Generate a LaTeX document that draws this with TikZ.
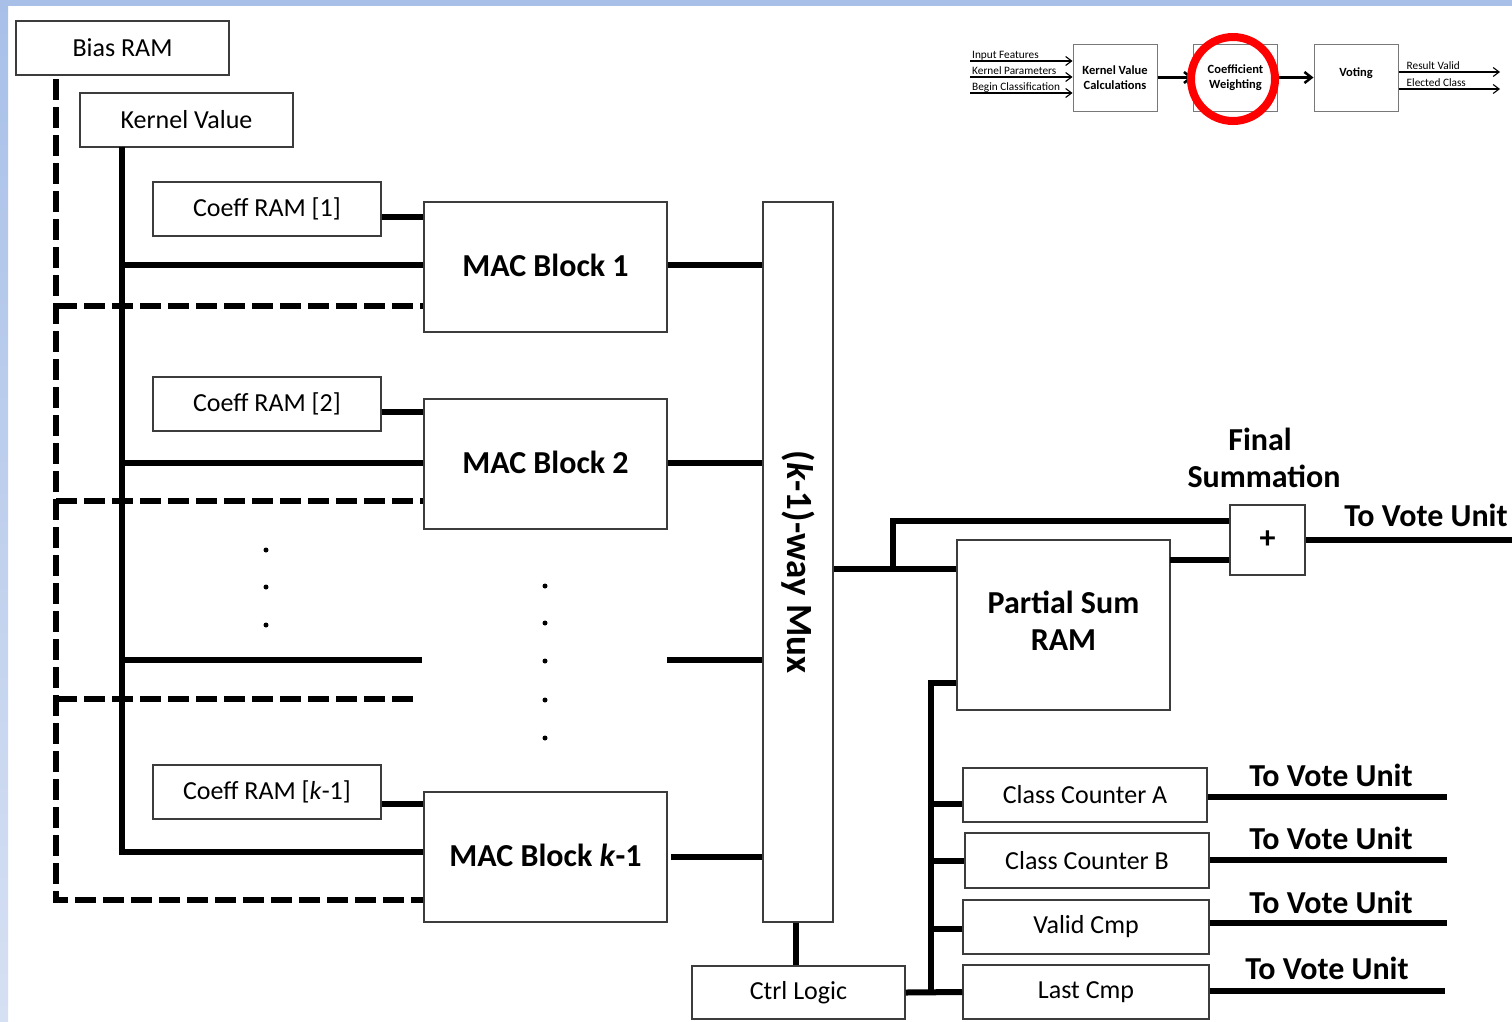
\documentclass[tikz,border=0pt]{standalone}
\usepackage{fontspec}
\setmainfont{Carlito}
\usetikzlibrary{arrows.meta}
\definecolor{boxgray}{RGB}{60,60,60}
\definecolor{minigray}{RGB}{120,120,120}
\definecolor{topblue}{RGB}{168,192,232}
\definecolor{lowblue}{RGB}{214,224,243}
\begin{document}
\begin{tikzpicture}[x=1pt,y=-1pt,
  blk/.style={draw=boxgray, line width=1.5pt, fill=white, inner sep=0pt, align=center},
  mini/.style={draw=minigray, line width=1pt, fill=white, inner sep=0pt, align=center,
    minimum width=84pt, minimum height=67pt, font=\bfseries\fontsize{12.5}{14.5}\selectfont},
  bus/.style={line width=6pt},
  biasline/.style={line width=5.5pt, dash pattern=on 21pt off 7pt},
  lbl/.style={font=\fontsize{26}{31}\selectfont},
  big/.style={font=\bfseries\fontsize{32}{37}\selectfont},
  minilbl/.style={font=\fontsize{11.3}{13}\selectfont, inner sep=0pt, anchor=base west},
  thinarr/.style={line width=1.1pt, -{Straight Barb[length=6pt,width=9pt]}},
  thickarr/.style={line width=2.5pt, -{Straight Barb[length=7pt,width=11pt]}},
  dotmark/.style={fill=black, circle, inner sep=0pt, minimum size=5pt}
]
\useasboundingbox (0,0) rectangle (1512,1021);
\fill[white] (0,0) rectangle (1512,1021);
\shade[top color=topblue, bottom color=lowblue] (0,0) rectangle (8,1021);
\fill[topblue] (0,0) rectangle (1512,6);

% ---- left column boxes
\node[blk, lbl, minimum width=213pt, minimum height=54pt] (bias) at (122.5,48) {Bias RAM};
\node[blk, lbl, minimum width=213pt, minimum height=54pt] (kv) at (186.5,120) {Kernel Value};
\node[blk, lbl, minimum width=228pt, minimum height=54pt] (c1) at (267,209) {Coeff RAM [1]};
\node[blk, lbl, minimum width=228pt, minimum height=54pt] (c2) at (267,404) {Coeff RAM [2]};
\node[blk, lbl, minimum width=228pt, minimum height=54pt] (ck) at (267,792) {Coeff RAM [\textit{k}-1]};
\node[blk, big, minimum width=243pt, minimum height=130pt] (m1) at (545.5,267) {\raisebox{4pt}{MAC Block 1}};
\node[blk, big, minimum width=243pt, minimum height=130pt] (m2) at (545.5,464) {\raisebox{4pt}{MAC Block 2}};
\node[blk, big, minimum width=243pt, minimum height=130pt] (mk) at (545.5,857) {\raisebox{4pt}{MAC Block \textit{k}-1}};
\node[blk, minimum width=70pt, minimum height=720pt] (mux) at (798,562) {};
\node[rotate=-90, font=\bfseries\fontsize{37}{42}\selectfont] (muxt) at (mux.center) {(\textit{k}-1)-way Mux};
\node[blk, lbl, minimum width=213pt, minimum height=53pt] (ctrl) at (798.5,992.5) {Ctrl Logic};

% ---- right side
\node[blk, big, minimum width=213pt, minimum height=170pt] (psr) at (1063.5,625) {\raisebox{5pt}{\begin{tabular}{@{}c@{}}Partial Sum\\RAM\end{tabular}}};
\node[blk, big, minimum width=75pt, minimum height=70pt] (plus) at (1267.5,540) {+};
\node[blk, lbl, minimum width=244pt, minimum height=54pt] (cca) at (1085,795) {Class Counter A};
\node[blk, lbl, minimum width=244pt, minimum height=55pt] (ccb) at (1087,860.5) {Class Counter B};
\node[blk, lbl, minimum width=246pt, minimum height=54pt] (vc) at (1086,927) {Valid Cmp};
\node[blk, lbl, minimum width=246pt, minimum height=54pt] (lc) at (1086,992) {Last Cmp};

\node[big, anchor=base] (fin) at (1260,450) {Final};
\node[big, anchor=base] (summ) at (1264,487) {Summation};
\node[big, anchor=base] (tv0) at (1426,526) {To Vote Unit};
\node[big, anchor=base] (tv1) at (1331,786) {To Vote Unit};
\node[big, anchor=base] (tv2) at (1331,849) {To Vote Unit};
\node[big, anchor=base] (tv3) at (1331,913) {To Vote Unit};
\node[big, anchor=base] (tv4) at (1327,979) {To Vote Unit};

% ---- coordinates
\coordinate (kvbus) at (122,147);
\coordinate (kvend) at (122,855);
\coordinate (bb) at (56,79);
\coordinate (bcorner) at (56,900);
\coordinate (d1) at (56,306);
\coordinate (d2) at (56,501);
\coordinate (d3) at (56,699);
\coordinate (d3e) at (418,699);
\coordinate (s3) at (122,660);
\coordinate (s3e) at (422,660);
\coordinate (o3) at (667,660);
\coordinate (j1) at (893,569);
\coordinate (j2) at (893,521);
\coordinate (j3) at (1170,560);
\coordinate (outF) at (1512,540);
\coordinate (cb1) at (931,683);
\coordinate (oend) at (1447,0);

% ---- bias (dashed)
\draw[biasline] (bb) -- (bcorner) -- (bcorner -| mk.west);
\draw[biasline] (d1) -- (d1 -| m1.west);
\draw[biasline] (d2) -- (d2 -| m2.west);
\draw[biasline] (d3) -- (d3e);

% ---- kernel value bus
\draw[bus] (kvbus) -- (kvend);
\draw[bus] (kvbus |- 0,265) -- (m1.west |- 0,265);
\draw[bus] (122,463) -- (m2.west |- 0,463);
\draw[bus] (s3) -- (s3e);
\draw[bus] (122,852) -- (mk.west |- 0,852);

% ---- coeff to MAC
\draw[bus] ([yshift=-8pt]c1.east) -- ([yshift=-8pt]c1.east -| m1.west);
\draw[bus] ([yshift=-8pt]c2.east) -- ([yshift=-8pt]c2.east -| m2.west);
\draw[bus] ([yshift=-12pt]ck.east) -- ([yshift=-12pt]ck.east -| mk.west);

% ---- MAC to mux
\draw[bus] (m1.east |- 0,265) -- (mux.west |- 0,265);
\draw[bus] (m2.east |- 0,463) -- (mux.west |- 0,463);
\draw[bus] (o3) -- (o3 -| mux.west);
\draw[bus] ([xshift=3pt]mk.east) -- (mk.east -| mux.west);

% ---- dots
\foreach \yy in {550,587,625} \node[dotmark] at (266,\yy) {};
\foreach \yy in {586,623,661,700,738} \node[dotmark] at (545,\yy) {};

% ---- mux out
\draw[bus] (mux.east |- j1) -- (psr.west |- j1);
\draw[bus] (j1) -- (j2) -- (j2 -| plus.west);
\draw[bus] (j3) -- (j3 -| plus.west);
\draw[bus] (plus.east) -- (outF);
\draw[bus] (mux.south -| 796,0) -- (ctrl.north -| 796,0);

% ---- control bus
\draw[bus] (psr.west |- cb1) -- (cb1) -- (cb1 |- ctrl.east);
\draw[bus] (ctrl.east) -- (lc.west);
\draw[bus] (cb1 |- 0,804) -- (cca.west |- 0,804);
\draw[bus] (cb1 |- ccb.west) -- (ccb.west);
\draw[bus] (cb1 |- 0,929) -- (vc.west |- 0,929);

% ---- outputs
\draw[bus] (cca.east |- 0,797) -- (oend |- 0,797);
\draw[bus] (ccb.east |- 0,860) -- (oend |- 0,860);
\draw[bus] (vc.east |- 0,923) -- (oend |- 0,923);
\draw[bus] (lc.east |- 0,991) -- (1445,991);

% ---- mini diagram
\node[mini] (kvc) at (1115,77.5) {Kernel Value\\Calculations};
\node[mini] (cw) at (1235.5,77.5) {Coefficient\\Weighting};
\node[mini] (vot) at (1356,77.5) {\raisebox{10pt}{Voting}};
\coordinate (i1) at (970,61);
\coordinate (i2) at (970,77);
\coordinate (i3) at (970,93);
\coordinate (r1) at (1500,72);
\coordinate (r2) at (1500,89);
\draw[thinarr] (i1) -- (i1 -| kvc.west);
\draw[thinarr] (i2) -- (i2 -| kvc.west);
\draw[thinarr] (i3) -- (i3 -| kvc.west);
\node[minilbl] at ([shift={(2pt,2.5pt)}]i1) {Input Features};
\node[minilbl] at ([shift={(2pt,2.5pt)}]i2) {Kernel Parameters};
\node[minilbl] at ([shift={(2pt,2.5pt)}]i3) {Begin Classification};
\draw[thickarr] (kvc.east) -- (cw.west);
\draw[thickarr] (cw.east) -- (vot.west);
\draw[thinarr] (vot.east |- r1) -- (r1);
\draw[thinarr] (vot.east |- r2) -- (r2);
\node[minilbl] at ([shift={(8pt,2.5pt)}]vot.east |- r1) {Result Valid};
\node[minilbl] at ([shift={(8pt,2.5pt)}]vot.east |- r2) {Elected Class};
\draw[red, line width=8pt] (1233,79) circle[radius=42pt];
\end{tikzpicture}
\end{document}
